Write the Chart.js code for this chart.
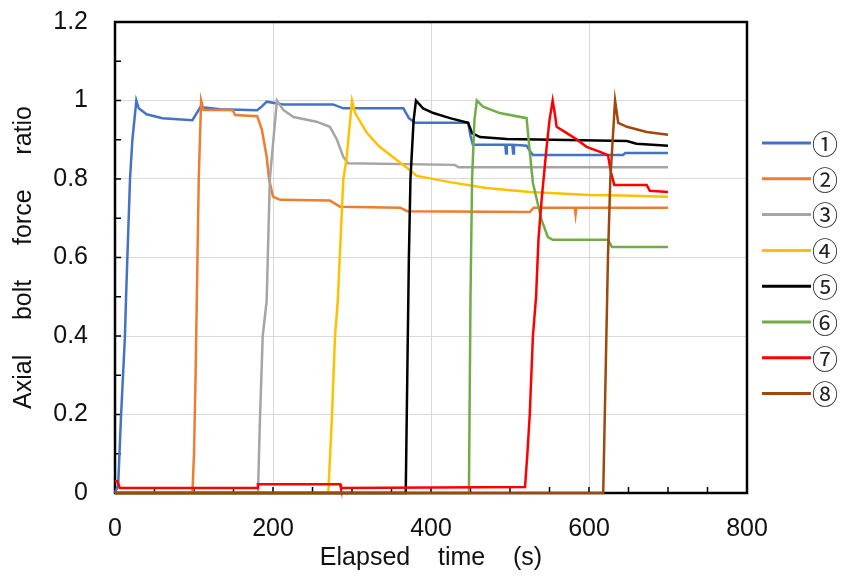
<!DOCTYPE html>
<html>
<head>
<meta charset="utf-8">
<script src="https://cdn.jsdelivr.net/npm/chart.js@4/dist/chart.umd.min.js"></script>
<style>
  body { margin: 0; background: #fff; }
  canvas { display: block; }
</style>
</head>
<body>
<canvas id="grafica" width="847" height="579"></canvas>
<script>
// series names (legend)
const nombres = ['①', '②', '③', '④', '⑤', '⑥', '⑦', '⑧'];
const colores = ['#4472C4', '#ED7D31', '#A5A5A5', '#FFC000', '#000000', '#70AD47', '#FF0000', '#9E480E'];

// elapsed time (s) / axial bolt force ratio
const t1 = [0, 4, 7.5, 12.6, 14, 19, 22, 27, 30, 40, 60, 98, 104, 108, 133, 180, 186, 192, 213, 276, 289, 365, 372, 380, 447, 450, 453, 494, 495, 496, 503, 504, 505, 521, 525, 529, 643, 646, 700];
const r1 = [0, 0.02, 0.19, 0.4, 0.5, 0.8, 0.9, 1.0, 0.98, 0.965, 0.955, 0.95, 0.97, 0.983, 0.978, 0.975, 0.985, 0.997, 0.99, 0.99, 0.98, 0.98, 0.955, 0.943, 0.943, 0.91, 0.887, 0.887, 0.865, 0.887, 0.887, 0.865, 0.887, 0.885, 0.872, 0.861, 0.861, 0.866, 0.866];

const t2 = [0, 98, 100, 102, 104, 106, 109, 112, 149, 152, 180, 186, 192, 195, 200, 209, 272, 285, 361, 370, 525, 530, 582, 583, 584, 700];
const r2 = [0, 0, 0.1, 0.3, 0.55, 0.8, 1.0, 0.976, 0.976, 0.963, 0.96, 0.925, 0.856, 0.8, 0.755, 0.747, 0.745, 0.729, 0.727, 0.718, 0.716, 0.727, 0.727, 0.71, 0.727, 0.727];

const t3 = [0, 181, 183.5, 187, 192, 196, 205, 213, 226, 255, 272, 281, 289, 295, 430, 435, 700];
const r3 = [0, 0, 0.19, 0.4, 0.49, 0.8, 1.0, 0.976, 0.958, 0.946, 0.933, 0.9, 0.856, 0.84, 0.836, 0.83, 0.83];

const t4 = [0, 270, 274.5, 278.5, 282, 289, 293, 300, 304, 319, 335, 357, 373, 382, 424, 470, 525, 601, 643, 700];
const r4 = [0, 0, 0.19, 0.4, 0.49, 0.8, 0.85, 1.0, 0.968, 0.917, 0.882, 0.848, 0.823, 0.808, 0.792, 0.777, 0.767, 0.759, 0.758, 0.755];

const t5 = [0, 368, 370, 372, 374, 378, 381, 390, 403, 424, 447, 452, 462, 496, 648, 660, 700];
const r5 = [0, 0, 0.3, 0.6, 0.8, 0.95, 1.0, 0.98, 0.968, 0.955, 0.943, 0.917, 0.907, 0.902, 0.897, 0.89, 0.885];

const t6 = [0, 448, 450, 452, 455, 458, 466, 487, 521, 525, 529, 534, 540, 548, 554, 624, 629, 700];
const r6 = [0, 0, 0.5, 0.8, 0.95, 1.0, 0.984, 0.968, 0.955, 0.87, 0.79, 0.747, 0.695, 0.652, 0.645, 0.645, 0.627, 0.627];

const t7 = [0, 3, 6, 180, 181, 285, 286, 519, 522, 525, 529, 533, 536, 540, 546, 550, 554, 557, 559, 572, 585, 597, 614, 624, 628, 632, 673, 677, 700];
const r7 = [0.03, 0.03, 0.013, 0.013, 0.022, 0.022, 0.013, 0.015, 0.1, 0.2, 0.4, 0.5, 0.645, 0.747, 0.874, 0.95, 1.0, 0.963, 0.933, 0.917, 0.9, 0.882, 0.869, 0.861, 0.815, 0.785, 0.785, 0.77, 0.767];

const t8 = [0, 618, 621, 624, 627, 630, 633, 637, 648, 673, 700];
const r8 = [0, 0, 0.3, 0.6, 0.8, 0.9, 1.0, 0.943, 0.933, 0.92, 0.913];

// axis ticks
const ticksX = [0, 200, 400, 600, 800];
const ticksY = [0, 0.2, 0.4, 0.6, 0.8, 1, 1.2];

const tiempos = [t1, t2, t3, t4, t5, t6, t7, t8];
const ratios = [r1, r2, r3, r4, r5, r6, r7, r8];

const fuente = "'Liberation Sans', Arial, sans-serif";

const datasets = nombres.map((n, i) => ({
    label: n,
    data: tiempos[i].map((t, k) => ({ x: t, y: ratios[i][k] })),
    borderColor: colores[i],
    backgroundColor: colores[i],
    borderWidth: 2.5,
    pointRadius: 0,
    tension: 0,
    clip: false,
    order: nombres.length - i // later series on top, like the original
}));

// frame + small inward ticks
const marco = {
    id: 'marco',
    beforeDatasetsDraw(chart) {
        const { ctx, chartArea: a, scales } = chart;
        ctx.save();
        ctx.strokeStyle = '#000';
        ctx.lineWidth = 2.5;
        ctx.strokeRect(a.left, a.top, a.right - a.left, a.bottom - a.top);
        ctx.lineWidth = 1.5;
        ctx.beginPath();
        for (let v = 0; v <= 800; v += 50) {
            const x = scales.x.getPixelForValue(v);
            ctx.moveTo(x, a.bottom);
            ctx.lineTo(x, a.bottom - 6);
        }
        for (let k = 0; k <= 12; k++) {
            const y = scales.y.getPixelForValue(k / 10);
            ctx.moveTo(a.left, y);
            ctx.lineTo(a.left + 6, y);
        }
        ctx.stroke();
        ctx.restore();
    }
};

// legend on the right (lines + circled numbers)
const leyenda = {
    id: 'leyenda',
    afterDraw(chart) {
        const { ctx } = chart;
        ctx.save();
        chart.data.datasets.forEach((d, i) => {
            const y = 143 + i * 35.8;
            ctx.strokeStyle = d.borderColor;
            ctx.lineWidth = 3;
            ctx.beginPath();
            ctx.moveTo(762, y);
            ctx.lineTo(811, y);
            ctx.stroke();
            ctx.fillStyle = '#222';
            ctx.font = "26px 'Noto Sans CJK JP', 'DejaVu Sans', sans-serif";
            ctx.textAlign = 'left';
            ctx.textBaseline = 'middle';
            ctx.fillText(d.label, 812, y + 1);
        });
        ctx.restore();
    }
};

new Chart(document.getElementById('grafica'), {
    type: 'line',
    data: { datasets: datasets },
    options: {
        responsive: false,
        animation: false,
        devicePixelRatio: 1,
        layout: { padding: { top: 22, right: 100, left: 0, bottom: 0 } },
        plugins: {
            legend: { display: false },
            title: { display: false },
            tooltip: { enabled: false }
        },
        scales: {
            x: {
                type: 'linear',
                min: 0,
                max: 800,
                afterFit: s => {
                    s.height = 86;
                    s.paddingLeft = 0; s.paddingRight = 0; s.paddingTop = 0; s.paddingBottom = 0;
                },
                afterBuildTicks: s => { s.ticks = ticksX.map(v => ({ value: v })); },
                ticks: {
                    padding: 21,
                    color: '#111',
                    font: { family: fuente, size: 25 },
                    callback: v => String(v)
                },
                grid: { color: '#D9D9D9', lineWidth: 1, drawTicks: false },
                border: { display: false },
                title: {
                    display: true,
                    text: 'Elapsed    time    (s)',
                    color: '#111',
                    font: { family: fuente, size: 25 },
                    padding: { top: 0, bottom: 6 }
                }
            },
            y: {
                min: 0,
                max: 1.2,
                afterFit: s => {
                    s.width = 115;
                    s.paddingLeft = 0; s.paddingRight = 0; s.paddingTop = 0; s.paddingBottom = 0;
                },
                afterBuildTicks: s => { s.ticks = ticksY.map(v => ({ value: v })); },
                ticks: {
                    padding: 27,
                    color: '#111',
                    font: { family: fuente, size: 25 },
                    callback: v => String(Math.round(v * 10) / 10)
                },
                grid: { color: '#D9D9D9', lineWidth: 1, drawTicks: false },
                border: { display: false },
                title: {
                    display: true,
                    text: 'Axial     bolt     force     ratio',
                    color: '#111',
                    font: { family: fuente, size: 25 },
                    padding: { top: 9, bottom: 0 }
                }
            }
        }
    },
    plugins: [marco, leyenda]
});
</script>
</body>
</html>
